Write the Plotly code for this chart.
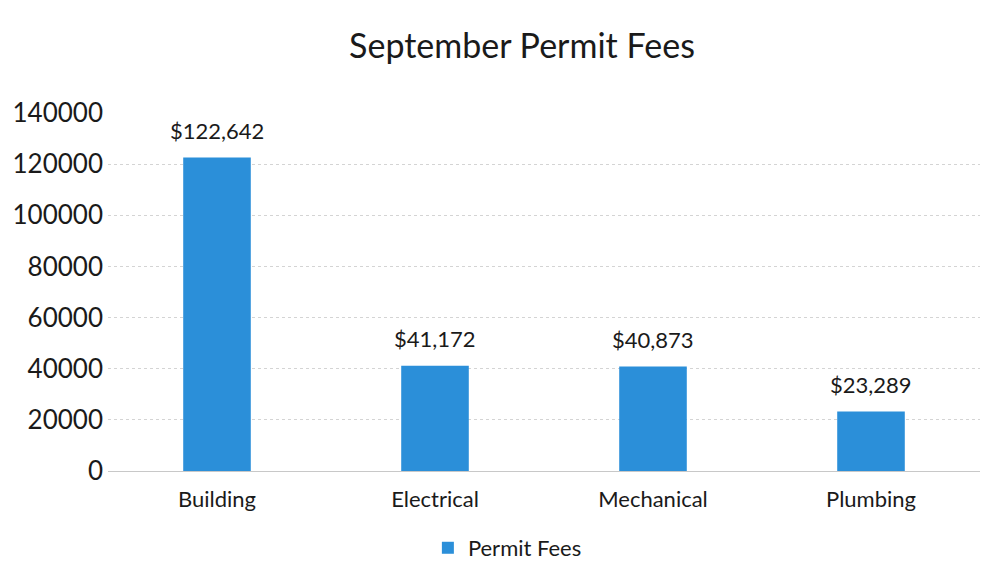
import plotly.graph_objects as go

categories = ["Building", "Electrical", "Mechanical", "Plumbing"]
fees = [122642, 41172, 40873, 23289]
fee_labels = ["$122,642", "$41,172", "$40,873", "$23,289"]
tick_vals = [0, 20000, 40000, 60000, 80000, 100000, 120000, 140000]
tick_text = ["0", "20000", "40000", "60000", "80000", "100000", "120000", "140000"]

FONT = "Lato, 'Open Sans', sans-serif"

fig = go.Figure()
fig.add_trace(go.Bar(
    x=categories,
    y=fees,
    name="Permit Fees",
    marker=dict(color="#2B8FD9", line=dict(width=0)),
    showlegend=True,
))

for c, v, t in zip(categories, fees, fee_labels):
    fig.add_annotation(x=c, y=v, text=t, showarrow=False, yanchor="middle",
                       yshift=27, font=dict(size=22, color="#1a1a1a", family=FONT))

fig.update_layout(
    width=999, height=585,
    paper_bgcolor="white", plot_bgcolor="white",
    margin=dict(l=100, r=27, t=105, b=122, autoexpand=False),
    title=dict(text="September Permit Fees", x=0.5145, xanchor="center",
               y=0.935, yanchor="middle",
               font=dict(size=34, color="#1a1a1a", family=FONT)),
    bargap=0.69,
    font=dict(family=FONT, color="#1a1a1a"),
    legend=dict(orientation="h", x=0.458, xanchor="center", y=-0.215, yanchor="middle",
                font=dict(size=22, color="#1a1a1a", family=FONT)),
    xaxis=dict(showgrid=False, showline=False, ticks="", automargin=False,
               ticklabelstandoff=13,
               tickfont=dict(size=22, color="#1a1a1a", family=FONT)),
    yaxis=dict(range=[0, 140000], tickvals=tick_vals, ticktext=tick_text,
               automargin=False,
               showgrid=True, gridcolor="#d4d4d4", gridwidth=1, griddash="dot",
               zeroline=True, zerolinecolor="#c8c8c8", zerolinewidth=1,
               showline=False, ticks="", ticklabelstandoff=4,
               tickfont=dict(size=26, color="#1a1a1a", family=FONT)),
)

fig.write_html("out.html")
